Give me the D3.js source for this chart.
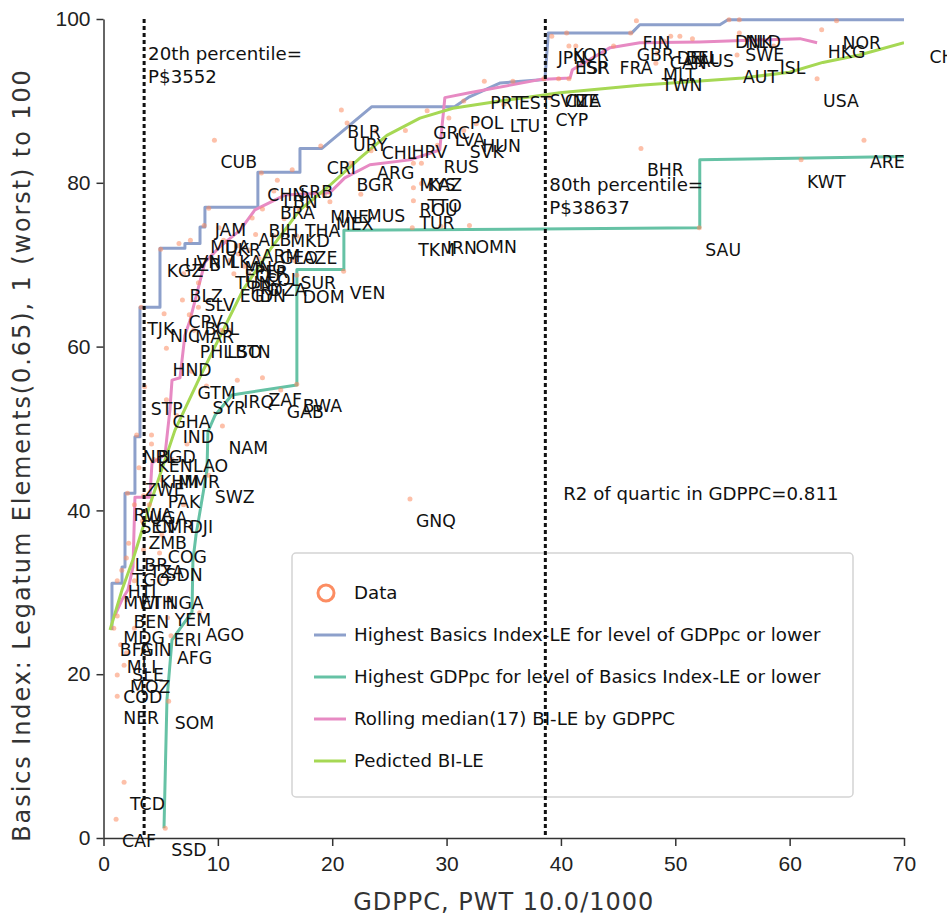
<!DOCTYPE html>
<html>
<head>
<meta charset="utf-8">
<script src="https://cdn.jsdelivr.net/npm/d3@7"></script>
<style>
  body { margin: 0; background: #fff; }
  svg { font-family: "DejaVu Sans", Verdana, sans-serif; }
  .tick text { font-size: 21px; fill: #222; }
  .label { font-size: 17.3px; fill: #111; }
  .note { font-size: 18.2px; fill: #111; }
  .title { font-size: 24px; fill: #333; letter-spacing: 1px; }
  .title.ytitle { letter-spacing: 1.9px; }
</style>
</head>
<body>
<svg id="chart" width="947" height="916"></svg>
<script>
// ---------- data (GDPPC/1000, Basics Index-LE)

const countries = [
  ["JPN", 39.2, 97.9], ["KOR", 40.5, 98.3], ["ESP", 40.7, 96.7], ["ISR", 41.3, 96.7],
  ["FRA", 44.6, 96.7], ["GBR", 46.1, 98.3], ["FIN", 46.6, 99.8], ["CAN", 49.0, 97.3],
  ["DEU", 49.6, 97.9], ["BEL", 50.4, 97.9], ["AUS", 51.5, 97.6], ["MLT", 48.4, 95.8],
  ["TWN", 48.3, 94.6], ["DNK", 54.7, 99.9], ["NLD", 55.6, 99.9], ["SWE", 55.6, 98.3],
  ["AUT", 55.4, 95.6], ["ISL", 58.6, 96.7], ["HKG", 62.8, 98.7], ["NOR", 64.1, 99.8],
  ["USA", 62.4, 92.7], ["CHE", 71.7, 98.0], ["SVN", 38.5, 92.7], ["CZE", 39.8, 92.7],
  ["ITA", 40.7, 92.7], ["CYP", 39.0, 90.4], ["EST", 35.8, 92.4], ["PRT", 33.3, 92.4],
  ["LTU", 35.0, 89.6], ["POL", 31.5, 90.0], ["GRC", 28.3, 88.8], ["LVA", 30.2, 87.9],
  ["SVK", 31.5, 86.4], ["HUN", 32.6, 87.2], ["RUS", 29.2, 84.6], ["KAZ", 27.8, 82.4],
  ["MYS", 27.1, 82.4], ["ROU", 27.1, 79.4], ["TTO", 27.8, 79.9], ["TUR", 27.1, 77.8],
  ["TKM", 27.0, 74.5], ["IRN", 29.5, 74.7], ["OMN", 32.0, 74.8], ["BHR", 47.0, 84.2],
  ["SAU", 52.1, 74.5], ["KWT", 61.0, 82.8], ["ARE", 66.5, 85.2], ["GNQ", 26.8, 41.4],
  ["BLR", 20.8, 88.9], ["URY", 21.3, 87.3], ["CHL", 23.8, 86.3], ["HRV", 26.4, 86.4],
  ["CRI", 19.0, 84.5], ["ARG", 23.4, 83.9], ["BGR", 21.6, 82.4], ["MNE", 19.3, 78.5],
  ["MUS", 22.5, 78.6], ["MEX", 19.8, 77.7], ["CUB", 9.7, 85.2], ["CHN", 13.8, 81.2],
  ["SRB", 16.5, 81.6], ["LBN", 15.2, 80.3], ["BRA", 14.9, 79.0], ["JAM", 9.2, 76.9],
  ["BIH", 13.9, 76.8], ["THA", 17.1, 76.8], ["ALB", 13.0, 75.7], ["MKD", 15.8, 75.6],
  ["MDA", 8.8, 74.8], ["UKR", 10.1, 74.5], ["GEO", 14.9, 73.5], ["ARM", 13.3, 73.7],
  ["AZE", 16.9, 73.5], ["VNM", 7.6, 73.0], ["LKA", 10.5, 73.0], ["MNG", 11.8, 72.3],
  ["ECU", 11.8, 71.3], ["PER", 12.7, 71.8], ["COL", 13.6, 70.8], ["TUN", 11.0, 70.5],
  ["PRY", 12.3, 69.8], ["DZA", 14.0, 69.6], ["EGY", 11.4, 68.9], ["IDN", 12.7, 68.9],
  ["SUR", 16.7, 70.5], ["DOM", 16.9, 68.7], ["VEN", 21.0, 69.2], ["KGZ", 5.0, 71.9],
  ["UZB", 6.6, 72.6], ["BLZ", 7.0, 68.9], ["SLV", 8.3, 67.8], ["CPV", 6.9, 65.7],
  ["BOL", 8.3, 64.8], ["NIC", 5.3, 64.0], ["MAR", 7.5, 63.9], ["TJK", 3.3, 64.8],
  ["PHL", 7.9, 62.0], ["LSO", 10.3, 62.0], ["BTN", 11.0, 62.0], ["HND", 5.5, 59.8],
  ["GTM", 7.7, 57.0], ["SYR", 9.0, 55.2], ["IRQ", 11.7, 55.9], ["ZAF", 13.9, 56.2],
  ["GAB", 15.5, 54.7], ["BWA", 16.9, 55.4], ["STP", 3.6, 55.1], ["GHA", 5.5, 53.5],
  ["IND", 6.4, 51.6], ["NAM", 10.4, 50.3], ["NPL", 2.9, 49.2], ["BGD", 4.2, 49.2],
  ["KEN", 4.2, 48.1], ["LAO", 7.3, 48.1], ["KHM", 4.4, 46.2], ["MMR", 6.0, 46.2],
  ["ZWE", 3.1, 45.2], ["SWZ", 9.2, 44.3], ["PAK", 5.1, 43.7], ["RWA", 2.1, 42.1],
  ["UGA", 3.5, 41.8], ["SEN", 2.7, 40.7], ["CMR", 4.0, 40.7], ["DJI", 7.0, 40.7],
  ["ZMB", 3.4, 38.7], ["COG", 5.1, 37.0], ["LBR", 2.2, 36.0], ["TZA", 3.5, 35.2],
  ["SDN", 4.9, 34.8], ["TGO", 2.0, 34.2], ["HTI", 1.6, 32.7], ["MWI", 1.2, 31.4],
  ["ETH", 2.7, 31.4], ["NGA", 4.9, 31.4], ["YEM", 5.7, 29.3], ["BEN", 2.1, 29.1],
  ["MDG", 1.2, 27.1], ["ERI", 5.6, 26.9], ["AGO", 8.4, 27.5], ["BFA", 0.9, 25.6],
  ["GIN", 2.7, 25.6], ["AFG", 5.9, 24.7], ["MLI", 1.5, 23.6], ["SLE", 2.0, 22.6],
  ["MOZ", 1.8, 21.1], ["COD", 1.2, 19.9], ["NER", 1.2, 17.3], ["SOM", 5.7, 16.7],
  ["TCD", 1.8, 6.8], ["CAF", 1.1, 2.3], ["SSD", 5.4, 1.2]
];

// Highest Basics Index-LE for level of GDPpc or lower
const bestBasics = [
  [0.74, 25.4], [0.74, 31.1], [1.62, 31.1], [1.62, 33.1], [1.88, 33.1], [1.88, 42.1],
  [2.75, 42.1], [2.75, 49.0], [3.19, 49.0], [3.19, 64.8], [4.94, 64.8], [4.94, 72.0],
  [7.12, 72.0], [7.12, 72.6], [8.44, 72.6], [8.44, 74.6], [8.87, 74.6], [8.87, 77.0],
  [13.5, 77.0], [13.5, 81.3], [17.18, 81.3], [17.18, 84.2], [19.1, 84.2], [23.47, 89.3],
  [30.7, 89.3], [32.0, 90.5], [34.7, 92.2], [38.6, 92.6], [38.9, 98.3], [46.2, 98.3],
  [46.9, 99.3], [53.9, 99.3], [54.6, 99.9], [70, 99.9]
];

// Highest GDPpc for level of Basics Index-LE or lower
const bestGdp = [
  [5.29, 1.2], [5.55, 16.9], [5.99, 24.2], [7.74, 27.6], [7.82, 33.9], [8.09, 37.0],
  [9.05, 44.9], [9.13, 49.6], [9.75, 51.6], [11.23, 54.1], [16.91, 55.3], [16.91, 69.4],
  [21.02, 69.4], [21.02, 74.2], [52.14, 74.5], [52.14, 82.8], [70, 83.2]
];

// Rolling median(17) BI-LE by GDPPC
const rollingMedian = [
  [1.01, 27.2], [1.62, 29.1], [2.14, 30.3], [2.58, 33.1], [2.75, 41.6], [4.06, 41.6],
  [4.24, 45.8], [5.38, 46.8], [5.81, 52.3], [5.99, 55.9], [6.69, 56.2], [7.12, 61.4],
  [7.56, 63.2], [8.87, 70.3], [10.18, 72.2], [11.93, 74.2], [13.24, 76.7], [15.86, 78.5],
  [19.8, 78.8], [21.1, 80.6], [23.3, 82.2], [26.8, 82.8], [29.4, 84.0], [29.85, 90.4],
  [32.0, 91.0], [38.15, 92.6], [40.8, 92.8], [41.0, 93.8], [44.3, 96.5], [46.9, 97.1],
  [52.1, 97.2], [60.9, 97.6], [62.4, 97.1]
];

// Predicted BI-LE (quartic in GDPPC)
const predicted = [
  [0.57, 25.4], [1.62, 30.3], [2.58, 34.0], [4.06, 40.7], [6.25, 49.8], [8.44, 56.3],
  [12.19, 66.9], [14.55, 71.8], [17.18, 76.7], [19.8, 79.7], [22.42, 83.0], [24.78, 85.8],
  [27.67, 87.9], [30.55, 89.1], [35.27, 90.1], [39.9, 91.0], [46.9, 91.9], [55.9, 92.8],
  [60.0, 93.5], [62.9, 94.7], [66.1, 95.6], [70, 97.1]
];

const percentiles = [
  { gdp: 3.552, lines: ["20th percentile=", "P$3552"], top: 95 },
  { gdp: 38.637, lines: ["80th percentile=", "P$38637"], top: 79 }
];
const r2Note = "R2 of quartic in GDPPC=0.811";

const xTicks = [0, 10, 20, 30, 40, 50, 60, 70];
const yTicks = [0, 20, 40, 60, 80, 100];

const legendItems = [
  { name: "Data", type: "dot" },
  { name: "Highest Basics Index-LE for level of GDPpc or lower", type: "line", color: "#8da0cb" },
  { name: "Highest GDPpc for level of Basics Index-LE or lower", type: "line", color: "#66c2a5" },
  { name: "Rolling median(17) BI-LE by GDPPC", type: "line", color: "#e78ac3" },
  { name: "Pedicted BI-LE", type: "line", color: "#a6d854" }
];

// ----------

const DOT_COLOR = "#fc8d62";

const svg = d3.select("#chart");
const x = d3.scaleLinear().domain([0, 70]).range([103.5, 904]);
const y = d3.scaleLinear().domain([0, 100]).range([838, 19]);

svg.append("defs").append("clipPath").attr("id", "plot")
  .append("rect")
  .attr("x", x(0)).attr("y", y(100) - 3)
  .attr("width", x(70) - x(0)).attr("height", y(0) - y(100) + 3);

// axes
svg.append("g")
  .attr("transform", "translate(0," + y(0) + ")")
  .call(d3.axisBottom(x).tickValues(xTicks).tickSize(8).tickPadding(10).tickSizeOuter(0))
  .call(g => g.select(".domain").attr("stroke", "#333").attr("stroke-width", 1.5));

svg.append("g")
  .attr("transform", "translate(" + x(0) + ",0)")
  .call(d3.axisLeft(y).tickValues(yTicks).tickSize(7).tickPadding(6).tickSizeOuter(0))
  .call(g => g.select(".domain").attr("stroke", "#333").attr("stroke-width", 1.5));

svg.selectAll(".tick line").attr("stroke", "#333").attr("stroke-width", 1.5);
svg.selectAll(".tick text").attr("font-family", null).attr("font-size", null);

svg.append("text")
  .attr("class", "title")
  .attr("x", (x(0) + x(70)) / 2)
  .attr("y", 910)
  .attr("text-anchor", "middle")
  .text("GDPPC, PWT 10.0/1000");

svg.append("text")
  .attr("class", "title ytitle")
  .attr("transform", "translate(30," + 455 + ") rotate(-90)")
  .attr("text-anchor", "middle")
  .text("Basics Index: Legatum Elements(0.65), 1 (worst) to 100");

// legend box (drawn under the percentile lines)
const legend = svg.append("g").attr("transform", "translate(292,553)");
legend.append("rect")
  .attr("width", 561).attr("height", 244).attr("rx", 4)
  .attr("fill", "#fff").attr("stroke", "#d4d4d4").attr("stroke-width", 1.5);

legendItems.forEach(function (d, i) {
  const cy = 40 + i * 42;
  if (d.type === "dot") {
    legend.append("circle")
      .attr("cx", 34).attr("cy", cy).attr("r", 8)
      .attr("fill", "none").attr("stroke", DOT_COLOR).attr("stroke-width", 3);
  } else {
    legend.append("line")
      .attr("x1", 22).attr("x2", 54).attr("y1", cy).attr("y2", cy)
      .attr("stroke", d.color).attr("stroke-width", 3);
  }
  legend.append("text")
    .attr("class", "note")
    .attr("x", 62).attr("y", cy + 6)
    .text(d.name);
});

// lines
const plot = svg.append("g").attr("clip-path", "url(#plot)");
const line = d3.line().x(d => x(d[0])).y(d => y(d[1]));

[
  [bestGdp, "#66c2a5"],
  [bestBasics, "#8da0cb"],
  [rollingMedian, "#e78ac3"],
  [predicted, "#a6d854"]
].forEach(function (s) {
  plot.append("path")
    .datum(s[0])
    .attr("d", line)
    .attr("fill", "none")
    .attr("stroke", s[1])
    .attr("stroke-width", 3)
    .attr("stroke-linejoin", "round");
});

// data points
plot.selectAll("circle.dot")
  .data(countries)
  .enter()
  .append("circle")
  .attr("class", "dot")
  .attr("cx", d => x(d[1]))
  .attr("cy", d => y(d[2]))
  .attr("r", 2.5)
  .attr("fill", DOT_COLOR)
  .attr("fill-opacity", 0.55);

// country labels sit just below-right of their point
svg.selectAll("text.label")
  .data(countries)
  .enter()
  .append("text")
  .attr("class", "label")
  .attr("x", d => x(d[1]) + 6)
  .attr("y", d => y(d[2]) + 28)
  .text(d => d[0]);

// percentile lines and notes
percentiles.forEach(function (p) {
  svg.append("line")
    .attr("x1", x(p.gdp)).attr("x2", x(p.gdp))
    .attr("y1", y(100)).attr("y2", y(0))
    .attr("stroke", "#111").attr("stroke-width", 3)
    .attr("stroke-dasharray", "4,3");
  p.lines.forEach(function (t, i) {
    svg.append("text")
      .attr("class", "note")
      .attr("x", x(p.gdp) + 4)
      .attr("y", y(p.top) + i * 23)
      .text(t);
  });
});

svg.append("text")
  .attr("class", "note")
  .attr("x", x(40.2))
  .attr("y", y(41.3))
  .text(r2Note);
</script>
</body>
</html>
